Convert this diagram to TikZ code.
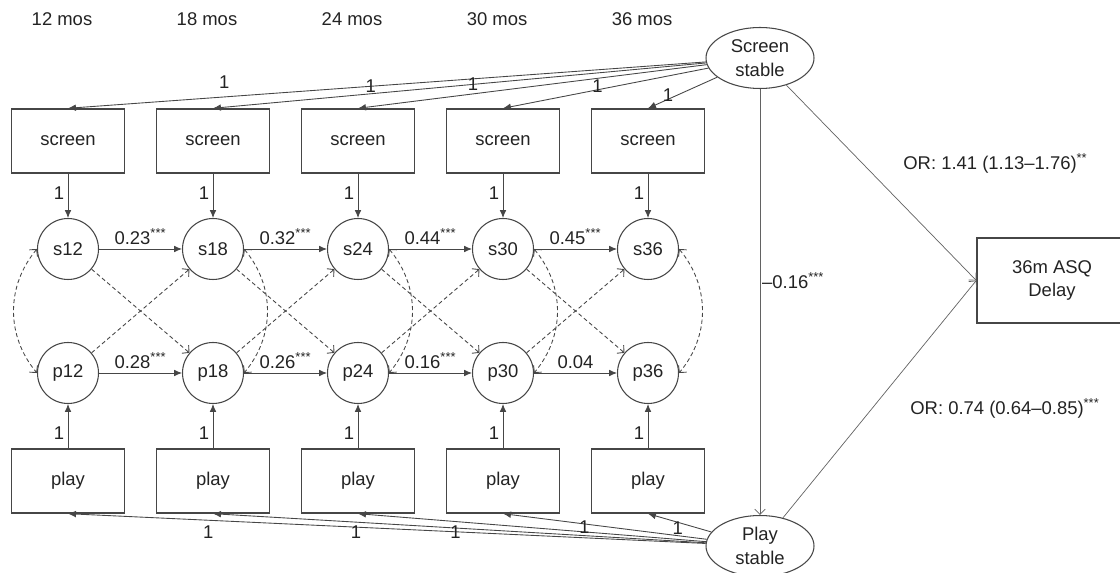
\documentclass[tikz,border=0pt]{standalone}
\usepackage{fontspec}
\setmainfont{Liberation Sans}
\usetikzlibrary{arrows.meta, shapes.geometric}
\definecolor{lineGray}{RGB}{70, 70, 70}
\definecolor{textGray}{RGB}{35, 35, 35}

\begin{document}
\begin{tikzpicture}[
    font=\fontsize{10.5}{13.5}\selectfont,
    every node/.style={text=textGray},
    obsbox/.style={draw=lineGray, line width=0.8pt, minimum width=2.26cm, minimum height=1.28cm, align=center},
    latent/.style={draw=lineGray, line width=0.6pt, circle, minimum size=1.22cm, inner sep=0pt},
    stablevar/.style={draw=lineGray, line width=0.6pt, ellipse, minimum width=2.16cm, minimum height=1.22cm, inner sep=0pt, align=center},
    regpath/.style={draw=lineGray, line width=0.5pt, -{Latex[length=4.5pt, width=3.8pt]}},
    crosslag/.style={draw=lineGray, line width=0.5pt, dash pattern=on 2.3pt off 1.6pt, -{Straight Barb[length=2.8pt, width=6pt]}},
    covpath/.style={draw=lineGray, line width=0.5pt, dash pattern=on 2.3pt off 1.6pt, {Straight Barb[length=2.8pt, width=6pt]}-{Straight Barb[length=2.8pt, width=6pt]}},
    thinarrow/.style={draw=lineGray!85, line width=0.4pt, -{Straight Barb[length=3pt, width=6pt]}},
  ]
  \clip (0,0) rectangle (22.4,11.46);

  % Waves: boxes, latent circles and loadings
  \foreach \m [count=\i from 0] in {12,18,24,30,36} {
    \pgfmathsetmacro{\xx}{1.36+2.9*\i}
    \node (mos\m) at (\xx-0.12, 11.08) {\m\ mos};
    \node[obsbox] (scr\m) at (\xx, 8.64) {screen};
    \node[latent] (s\m) at (\xx, 6.48) {s\m};
    \node[latent] (p\m) at (\xx, 4.00) {p\m};
    \node[obsbox] (ply\m) at (\xx, 1.84) {play};
    \draw[regpath] (scr\m) -- node[left, pos=0.45, inner sep=2pt] {1} (s\m);
    \draw[regpath] (ply\m) -- node[left, pos=0.35, inner sep=2pt] {1} (p\m);
  }

  % Autoregressive paths
  \draw[regpath] (s12) -- node[above, inner sep=2pt] {0.23\textsuperscript{***}} (s18);
  \draw[regpath] (s18) -- node[above, inner sep=2pt] {0.32\textsuperscript{***}} (s24);
  \draw[regpath] (s24) -- node[above, inner sep=2pt] {0.44\textsuperscript{***}} (s30);
  \draw[regpath] (s30) -- node[above, inner sep=2pt] {0.45\textsuperscript{***}} (s36);
  \draw[regpath] (p12) -- node[above, inner sep=2pt] {0.28\textsuperscript{***}} (p18);
  \draw[regpath] (p18) -- node[above, inner sep=2pt] {0.26\textsuperscript{***}} (p24);
  \draw[regpath] (p24) -- node[above, inner sep=2pt] {0.16\textsuperscript{***}} (p30);
  \draw[regpath] (p30) -- node[above, inner sep=2pt] {0.04} (p36);

  % Cross-lagged paths and covariances
  \foreach \a/\b in {12/18, 18/24, 24/30, 30/36} {
    \draw[crosslag] (s\a) -- (p\b);
    \draw[crosslag] (p\a) -- (s\b);
  }
  \draw[covpath] (s12.west) to[bend right=40] (p12.west);
  \foreach \m in {18,24,30,36}
    \draw[covpath] (s\m.east) to[bend left=40] (p\m.east);

  % Stable factors
  \node[stablevar] (sstable) at (15.2, 10.3) {Screen\\stable};
  \node[stablevar] (pstable) at (15.2, 0.54) {Play\\stable};
  \foreach \m/\t/\dy in {12/0.755/8.2, 18/0.68/4.2, 24/0.67/5.3, 30/0.54/2.3, 36/0.71/2.3}
    \draw[regpath] (sstable) -- node[pos=\t, yshift=\dy pt] {1} (scr\m.north);
  \foreach \m/\t/\dy in {12/0.78/-7, 18/0.71/-5.9, 24/0.72/-6.2, 30/0.6/-2, 36/0.53/-3.5}
    \draw[regpath] (pstable) -- node[pos=\t, yshift=\dy pt] {1} (ply\m.south);
  \draw[thinarrow] (sstable) -- node[right, pos=0.45, inner sep=1pt] {–0.16\textsuperscript{***}} (pstable);

  % Outcome
  \node[obsbox, minimum width=3.0cm, minimum height=1.7cm] (asq) at (21.04, 5.85) {36m ASQ\\Delay};
  \draw[thinarrow] (sstable) -- (asq.west);
  \draw[thinarrow] (pstable) -- (asq.west);
  \node[anchor=west, inner sep=0pt] (orscreen) at (18.06, 8.2) {OR: 1.41 (1.13–1.76)\textsuperscript{**}};
  \node[anchor=west, inner sep=0pt] (orplay) at (18.2, 3.3) {OR: 0.74 (0.64–0.85)\textsuperscript{***}};
\end{tikzpicture}
\end{document}
